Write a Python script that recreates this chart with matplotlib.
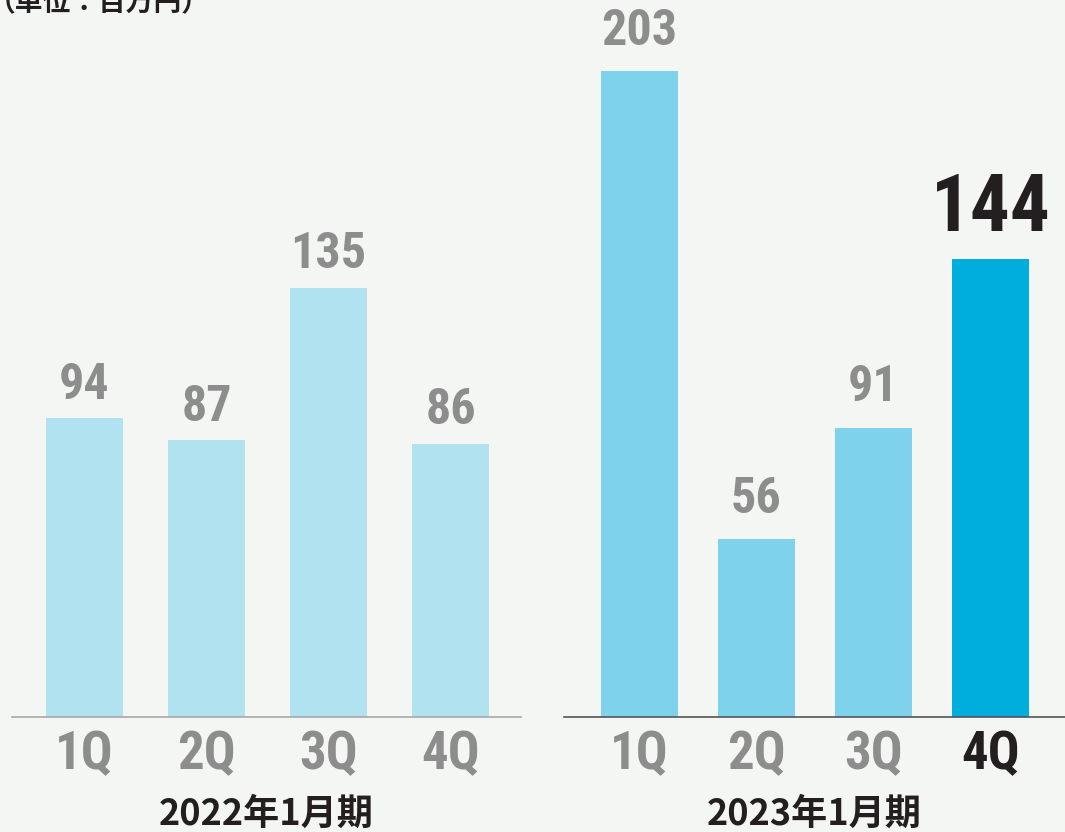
import numpy as np
import matplotlib.pyplot as plt
from matplotlib import font_manager

quarters = ["1Q", "2Q", "3Q", "4Q"]
values_2022 = [94, 87, 135, 86]
values_2023 = [203, 56, 91, 144]
period_2022 = "2022年1月期"
period_2023 = "2023年1月期"
unit_label = "（単位：百万円）"

bg = "#f4f6f3"
gray = "#8d8d8d"
dark = "#231f20"

names = {f.name for f in font_manager.fontManager.ttflist}
narrow = [n for n in ["Roboto Condensed", "Liberation Sans Narrow", "DejaVu Sans"] if n in names]
num_font = dict(family=narrow, fontweight="bold")
jp_font = dict(family=["Noto Sans CJK JP", "DejaVu Sans"], fontweight="bold")

W, H = 1065, 832
fig = plt.figure(figsize=(W / 100, H / 100), dpi=100, facecolor=bg)

base = (H - 717) / H
ytop = 717 / 3.18


def panel(x0, x1, xlim, vals, colors, width, line_color, period, highlight, off):
    ax = fig.add_axes([x0 / W, base, (x1 - x0) / W, 1 - base])
    ax.set_facecolor("none")
    x = np.arange(len(vals))
    ax.bar(x, vals, width=width, color=colors, zorder=2)
    ax.set_xlim(*xlim)
    ax.set_ylim(0, ytop)
    for s in ["top", "left", "right"]:
        ax.spines[s].set_visible(False)
    ax.spines["bottom"].set_color(line_color)
    ax.spines["bottom"].set_linewidth(1.2)
    ax.set_yticks([])
    ax.set_xticks(x)
    ax.set_xticklabels(quarters)
    ax.tick_params(axis="x", length=0, pad=9)
    for i, lab in enumerate(ax.get_xticklabels()):
        lab.set(fontsize=38, color=dark if i == highlight else gray, **num_font)
    for i, v in enumerate(vals):
        big = i == highlight
        ax.annotate(str(v), (x[i], v), xytext=(0, 20 if big else off),
                    textcoords="offset points", ha="center", va="baseline",
                    fontsize=57 if big else 36, color=dark if big else gray,
                    **num_font)
    fig.text((x0 + x1) / 2 / W, 1 - 825 / H, period, ha="center",
             va="baseline", fontsize=26, color=dark, **jp_font)
    return ax


panel(12, 521, (-0.594, 3.578), values_2022, ["#b1e2f0"] * 4, 0.631,
      "#a8a8a8", period_2022, None, 14)
panel(564, 1065, (-0.645, 3.637), values_2023,
      ["#7fd2eb", "#7fd2eb", "#7fd2eb", "#00aede"], 0.658,
      "#555555", period_2023, 3, 19)

fig.text(-12 / W, 1 - 11 / H, unit_label, ha="left", va="baseline",
         fontsize=20, color=dark, **jp_font)

fig.savefig("out.png", dpi=100, facecolor=bg)
